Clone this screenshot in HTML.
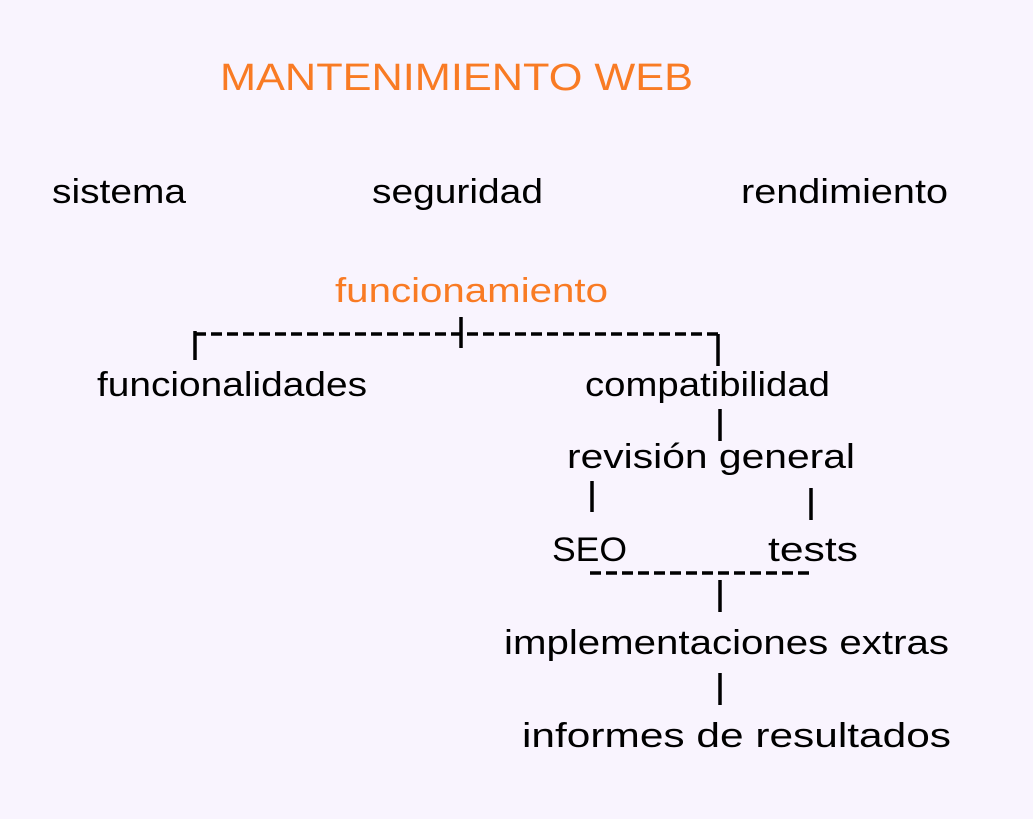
<!DOCTYPE html>
<html><head><meta charset="utf-8"><style>
html,body{margin:0;padding:0;background:#f9f4fe;}
svg{display:block}
text{font-family:"Liberation Sans",sans-serif;}
</style></head><body>
<svg width="1033" height="819" viewBox="0 0 1033 819" xmlns="http://www.w3.org/2000/svg">
<rect width="1033" height="819" fill="#f9f4fe"/>
<g font-size="34" fill="#000">
<text x="220" y="90" fill="#f97b24" font-size="38" textLength="473" lengthAdjust="spacingAndGlyphs">MANTENIMIENTO WEB</text>
<text x="52" y="203" textLength="134" lengthAdjust="spacingAndGlyphs">sistema</text>
<text x="372" y="203" textLength="171" lengthAdjust="spacingAndGlyphs">seguridad</text>
<text x="741" y="203" textLength="207" lengthAdjust="spacingAndGlyphs">rendimiento</text>
<text x="335" y="302" fill="#f97b24" textLength="273" lengthAdjust="spacingAndGlyphs">funcionamiento</text>
<text x="97" y="396" textLength="270" lengthAdjust="spacingAndGlyphs">funcionalidades</text>
<text x="585" y="396" textLength="245" lengthAdjust="spacingAndGlyphs">compatibilidad</text>
<text x="567" y="468" textLength="288" lengthAdjust="spacingAndGlyphs">revisión general</text>
<text x="552" y="561" textLength="75" lengthAdjust="spacingAndGlyphs">SEO</text>
<text x="768" y="561" textLength="90" lengthAdjust="spacingAndGlyphs">tests</text>
<text x="504" y="654" textLength="445" lengthAdjust="spacingAndGlyphs">implementaciones extras</text>
<text x="522" y="747" textLength="429" lengthAdjust="spacingAndGlyphs">informes de resultados</text>
</g>
<g stroke="#000" stroke-width="3.5" fill="none">
<line x1="195" y1="334" x2="718" y2="334" stroke-dasharray="11,5"/>
<line x1="195" y1="331" x2="195" y2="360"/>
<line x1="461" y1="317" x2="461" y2="348"/>
<line x1="718" y1="334" x2="718" y2="366"/>
<line x1="720" y1="409" x2="720" y2="441"/>
<line x1="592" y1="481" x2="592" y2="512"/>
<line x1="811" y1="488" x2="811" y2="520"/>
<line x1="590" y1="573" x2="810" y2="573" stroke-dasharray="11,5"/>
<line x1="720" y1="580" x2="720" y2="612"/>
<line x1="720" y1="673" x2="720" y2="705"/>
</g>
</svg>
</body></html>
